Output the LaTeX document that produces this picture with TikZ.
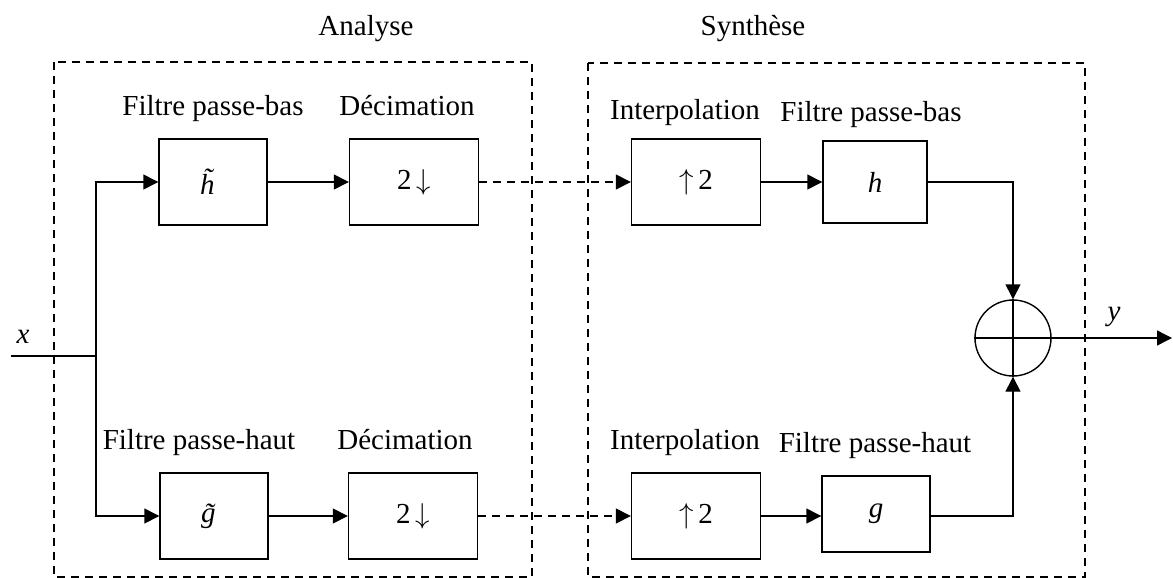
\documentclass[tikz,border=0pt]{standalone}
\usepackage{fontspec}
\setmainfont{Liberation Serif}
\usetikzlibrary{arrows.meta,positioning}

\begin{document}
\begin{tikzpicture}[x=0.5pt,y=-0.5pt,font=\fontsize{14.5}{17}\selectfont]
			\tikzstyle{Block}	= [rectangle, draw, line width=0.7pt, minimum width=54pt, minimum height=43pt, inner sep=0pt]
			\tikzstyle{Rate}	= [Block, minimum width=64.5pt]
			\tikzstyle{Label}	= [inner sep=0pt, anchor=base]
			\tikzstyle{Region}	= [line width=0.7pt, dash pattern=on 4pt off 3pt]
			\tikzstyle{Wire}	= [line width=0.7pt]
			\tikzstyle{Sig}		= [Wire, -{Triangle[length=7.5pt,width=7.5pt]}]
			\tikzstyle{Link}	= [Sig, dash pattern=on 4pt off 3pt]
			\tikzstyle{Adder}	= [circle, draw, line width=0.7pt, minimum size=38pt, inner sep=0pt]

			\useasboundingbox (0,0) rectangle (1173,578);

			\draw (54,62) rectangle (532,577) [Region];
			\draw (588,63) rectangle (1085,577) [Region];
			\node (ana) at (366,35) [Label] {Analyse};
			\node (syn) at (753,35) [Label] {Synthèse};

			\node (ht) at (213,182) [Block] {\textit{\~h}};
			\node (d1) at (414,182) [Rate] {2\,$\downarrow$};
			\node (u1) at (696,182) [Rate] {$\uparrow$\,2};
			\node (hb) at (875,182) [Block][minimum width=52pt, minimum height=41pt] {\textit{h}};

			\node (gt) at (214,516) [Block] {\textit{\~g}};
			\node (d2) at (413,516) [Rate] {2\,$\downarrow$};
			\node (u2) at (696,516) [Rate] {$\uparrow$\,2};
			\node (gb) at (876,514) [Block][minimum width=54pt, minimum height=38pt] {\textit{g}};

			\node (lp1) at (213,115) [Label] {Filtre passe-bas};
			\node (dc1) at (407,115) [Label] {Décimation};
			\node (ip1) at (685,119) [Label] {Interpolation};
			\node (lp2) at (871,121) [Label] {Filtre passe-bas};
			\node (hp1) at (199,449) [Label] {Filtre passe-haut};
			\node (dc2) at (405,449) [Label] {Décimation};
			\node (ip2) at (685,449) [Label] {Interpolation};
			\node (hp2) at (875,452) [Label] {Filtre passe-haut};

			\node (sum) at (1013,338) [Adder] {};
			\coordinate (in) at (11,356);
			\coordinate (j) at (96,356);
			\coordinate (out) at (1172,338);
			\node (xl) at (23,343) [Label] {\textit{x}};
			\node (yl) at (1114,320) [Label] {\textit{y}};

			\draw (in) -- (j) [Wire];
			\draw (j) |- (ht) [Sig];
			\draw (j) |- (gt) [Sig];
			\draw (ht) -- (d1) [Sig];
			\draw (gt) -- (d2) [Sig];
			\draw (d1) -- (u1) [Link];
			\draw (d2) -- (u2) [Link];
			\draw (u1) -- (hb) [Sig];
			\draw (u2) -- (u2 -| gb.west) [Sig];
			\draw (hb) -| (sum) [Sig];
			\draw (gb.east |- u2) -| (sum) [Sig];
			\draw (sum.north) -- (sum.south) (sum.west) -- (sum.east) [Wire];
			\draw (sum) -- (out) [Sig];
		\end{tikzpicture}
\end{document}
